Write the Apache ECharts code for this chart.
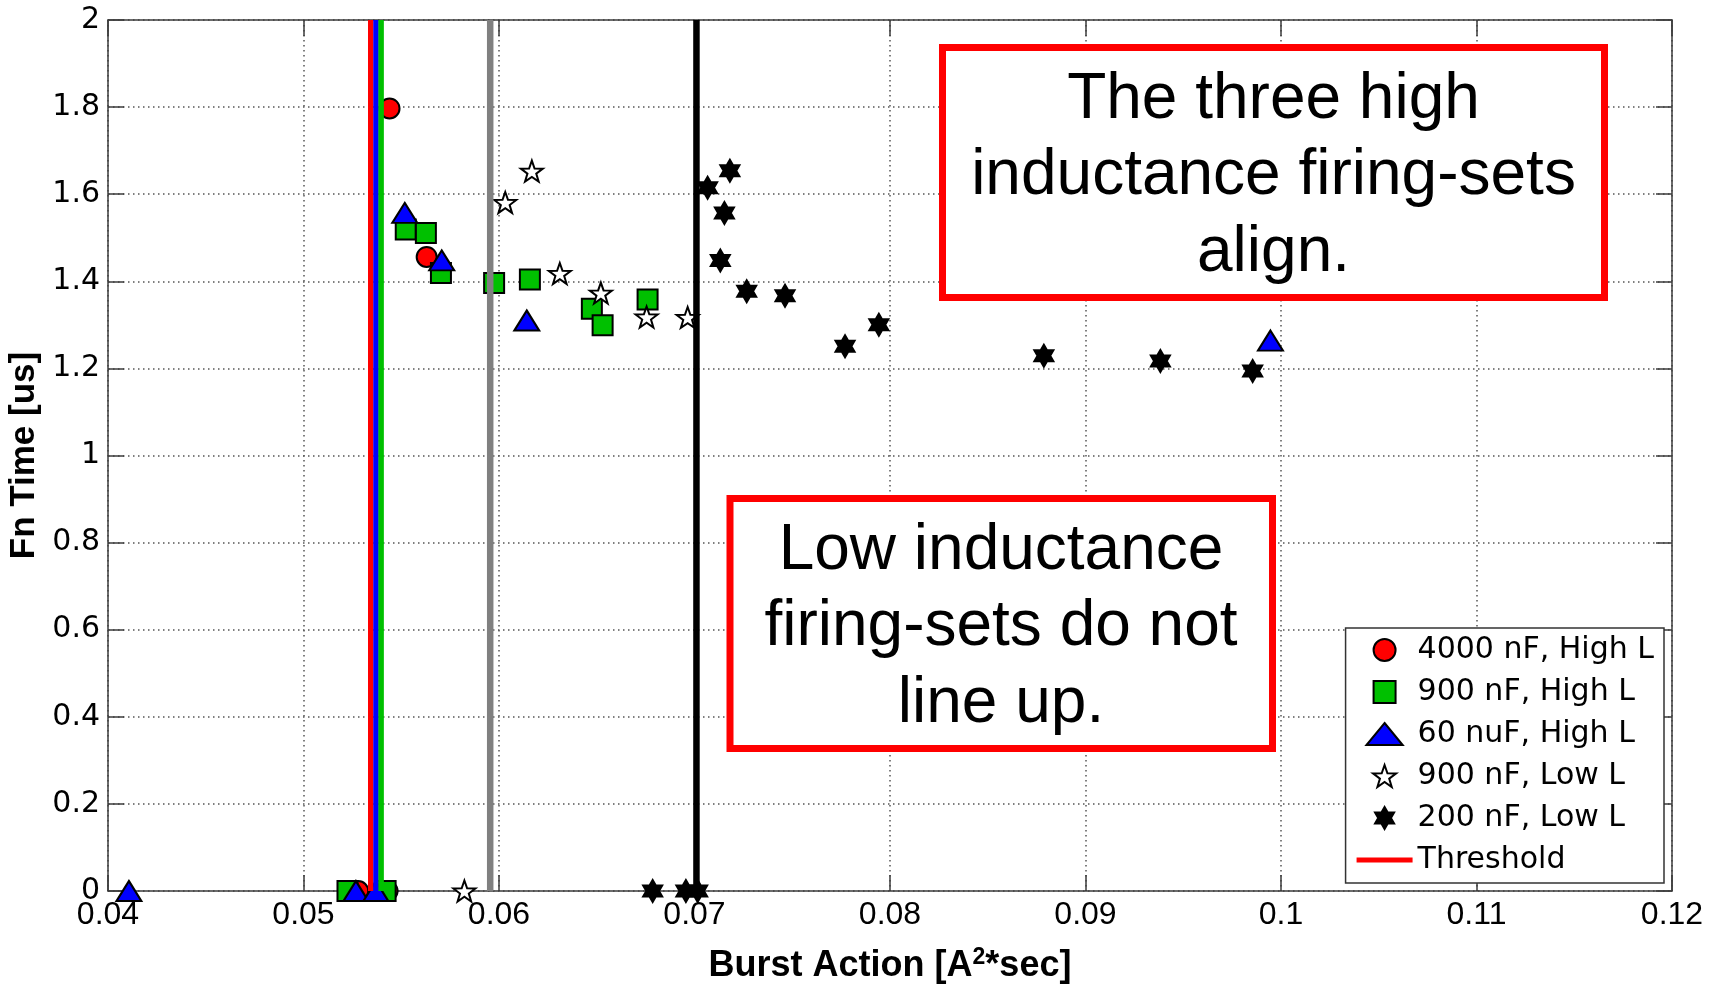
<!DOCTYPE html>
<html>
<head>
<meta charset="utf-8">
<title>Burst Action vs Fn Time</title>
<script src="https://cdn.jsdelivr.net/npm/echarts@6.0.0/dist/echarts.min.js"></script>
<style>
html, body { margin: 0; padding: 0; background: #fff; }
#chart { width: 1713px; height: 987px; }
</style>
</head>
<body>
<div id="chart"></div>
<script>
// axis ranges [min, max, step]
var xAxisTicks = [0.04, 0.12, 0.01];
var yAxisTicks = [0, 2, 0.2];

var seriesNames = ['4000 nF, High L', '900 nF, High L', '60 nuF, High L', '900 nF, Low L', '200 nF, Low L'];

// [burst action, fn time]
var highL4000 = [[0.0544, 1.797], [0.0563, 1.456], [0.0528, 0], [0.0543, 0]];
var highL900 = [[0.05523, 1.519], [0.05626, 1.511], [0.05703, 1.419], [0.05975, 1.396], [0.06158, 1.404],
    [0.06475, 1.337], [0.0653, 1.299], [0.0676, 1.358], [0.05225, 0], [0.0542, 0]];
var highL60 = [[0.05518, 1.557], [0.05707, 1.448], [0.06142, 1.31], [0.09946, 1.264],
    [0.04107, 0], [0.05268, 0], [0.0537, 0]];
var lowL900 = [[0.06032, 1.581], [0.06168, 1.653], [0.06311, 1.418], [0.06521, 1.373], [0.06755, 1.318],
    [0.06965, 1.317], [0.05823, 0]];
var lowL200 = [[0.07067, 1.615], [0.07181, 1.654], [0.07153, 1.557], [0.07132, 1.448], [0.07267, 1.377],
    [0.07463, 1.367], [0.0777, 1.251], [0.07943, 1.3], [0.08787, 1.229], [0.09383, 1.217], [0.09855, 1.194],
    [0.06786, 0], [0.06956, 0], [0.07016, 0]];

// vertical threshold lines (burst action)
var thresholdX = [0.05344, 0.05371, 0.05397, 0.05955, 0.0701];
var thresholdColors = ['#ff0000', '#0000ff', '#00c000', '#808080', '#000000'];

function starPath(points, inner) {
    var d = '';
    for (var i = 0; i < points * 2; i++) {
        var r = i % 2 ? inner : 1;
        var a = Math.PI * i / points - Math.PI / 2;
        d += (i ? 'L' : 'M') + (r * Math.cos(a)).toFixed(4) + ',' + (r * Math.sin(a)).toFixed(4);
    }
    return 'path://' + d + 'Z';
}

var chart = echarts.init(document.getElementById('chart'));

var axisLineStyle = { color: '#3c3c3c', width: 1.5 };
var gridLineStyle = { color: '#555', width: 1.5, type: [1.5, 3.5] };

function valueAxis(ticks, extra) {
    var base = {
        type: 'value',
        min: ticks[0],
        max: ticks[1],
        interval: ticks[2],
        axisLine: { show: true, onZero: false, lineStyle: axisLineStyle },
        axisTick: { show: true, inside: true, length: 16, lineStyle: axisLineStyle },
        axisLabel: { show: false },
        splitLine: { show: false }
    };
    return Object.assign(base, extra);
}

var scatterSeries = [
    { name: seriesNames[0], data: highL4000, symbol: 'circle', symbolSize: 20, color: '#ff0000' },
    { name: seriesNames[1], data: highL900, symbol: 'rect', symbolSize: 20, color: '#00c000' },
    { name: seriesNames[2], data: highL60, symbol: 'triangle', symbolSize: [25, 20], color: '#0000ff' },
    { name: seriesNames[3], data: lowL900, symbol: starPath(5, 0.4), symbolSize: 22, color: '#ffffff' },
    { name: seriesNames[4], data: lowL200, symbol: starPath(6, 0.577), symbolSize: 22, color: '#000000' }
].map(function (s) {
    return {
        type: 'scatter',
        name: s.name,
        data: s.data,
        symbol: s.symbol,
        symbolSize: s.symbolSize,
        symbolKeepAspect: true,
        itemStyle: { color: s.color, borderColor: '#000', borderWidth: 2, opacity: 1 },
        z: 2
    };
});

var lineSeries = thresholdX.map(function (x, i) {
    return {
        type: 'line',
        name: i === 0 ? 'Threshold' : 'threshold-' + i,
        data: [[x, yAxisTicks[0]], [x, yAxisTicks[1]]],
        showSymbol: false,
        symbol: 'none',
        silent: true,
        lineStyle: { color: thresholdColors[i], width: i < 3 ? 5.5 : 6.5 },
        itemStyle: { color: thresholdColors[i] },
        z: 4
    };
});

var option = {
    animation: false,
    backgroundColor: '#ffffff',
    grid: { left: 108, right: 41, top: 20, bottom: 96, containLabel: false, outerBoundsMode: 'none' },
    xAxis: [
        valueAxis(xAxisTicks, {
            position: 'bottom',
            axisLabel: { show: true, margin: 8, color: '#000', fontFamily: 'Liberation Sans', fontSize: 32,
                showMinLabel: true, showMaxLabel: true, hideOverlap: false },
            splitLine: { show: true, lineStyle: gridLineStyle },
            name: '{a|Burst Action [A}{s|2}{a|*sec]}',
            nameLocation: 'middle',
            nameGap: 55,
            nameTextStyle: {
                rich: {
                    a: { fontFamily: 'Liberation Sans', fontWeight: 'bold', fontSize: 36, color: '#000', lineHeight: 40 },
                    s: { fontFamily: 'Liberation Sans', fontWeight: 'bold', fontSize: 23, color: '#000', lineHeight: 22, verticalAlign: 'top' }
                }
            }
        }),
        valueAxis(xAxisTicks, { position: 'top' })
    ],
    yAxis: [
        valueAxis(yAxisTicks, {
            position: 'left',
            axisLabel: { show: true, margin: 8, color: '#000', fontFamily: 'DejaVu Sans', fontSize: 30,
                showMinLabel: true, showMaxLabel: true, hideOverlap: false },
            splitLine: { show: true, lineStyle: gridLineStyle },
            name: 'Fn Time [us]',
            nameLocation: 'middle',
            nameGap: 63,
            nameTextStyle: { fontFamily: 'Liberation Sans', fontWeight: 'bold', fontSize: 35, color: '#000' }
        }),
        valueAxis(yAxisTicks, { position: 'right' })
    ],
    legend: {
        orient: 'vertical',
        right: 49,
        bottom: 104,
        align: 'left',
        itemWidth: 56,
        itemHeight: 22,
        itemGap: 12,
        padding: [7, 10, 8, 11],
        backgroundColor: '#ffffff',
        borderColor: '#333',
        borderWidth: 1.5,
        borderRadius: 0,
        selectedMode: false,
        textStyle: { fontFamily: 'DejaVu Sans', fontSize: 30, color: '#000' },
        data: [
            seriesNames[0],
            { name: seriesNames[1], icon: 'path://M0,0H20V20H0Z' },
            { name: seriesNames[2], icon: 'path://M14,0L28,17H0Z' },
            seriesNames[3],
            seriesNames[4],
            { name: 'Threshold', icon: 'path://M0,0H56V5H0Z' }
        ]
    },
    graphic: [
        { type: 'rect', shape: { x: 942.5, y: 47.5, width: 662, height: 250 },
          style: { fill: '#fff', stroke: '#ff0000', lineWidth: 7 }, z: 10 },
        { type: 'text', x: 1273.5, y: 176.7, z: 11,
          style: { text: 'The three high\ninductance firing-sets\nalign.', fontFamily: 'Liberation Sans', fontSize: 64,
                   fill: '#000', align: 'center', verticalAlign: 'middle', lineHeight: 76.7 } },
        { type: 'rect', shape: { x: 730, y: 498.5, width: 542.5, height: 250 },
          style: { fill: '#fff', stroke: '#ff0000', lineWidth: 7 }, z: 10 },
        { type: 'text', x: 1001, y: 627.7, z: 11,
          style: { text: 'Low inductance\nfiring-sets do not\nline up.', fontFamily: 'Liberation Sans', fontSize: 64,
                   fill: '#000', align: 'center', verticalAlign: 'middle', lineHeight: 76.7 } }
    ],
    series: scatterSeries.concat(lineSeries)
};

chart.setOption(option);
window.addEventListener('resize', function () {
    chart.resize();
});
</script>
</body>
</html>
